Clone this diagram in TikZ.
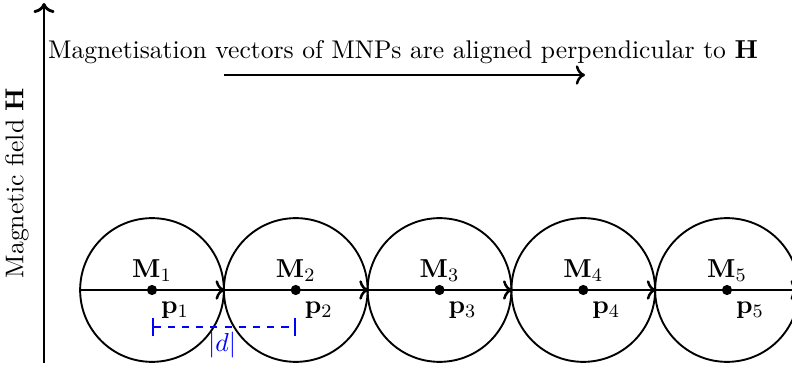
\documentclass[tikz,border=0pt]{standalone}
\usetikzlibrary{arrows.meta}
\begin{document}
\begin{tikzpicture}[x=0.422pt,y=-0.422pt,line width=0.8pt,
  font=\fontsize{10.8}{13}\selectfont,
  mnp/.style={circle,draw,minimum size=60.66pt,inner sep=0pt},
  centre/.style={circle,fill,minimum size=4.3pt,inner sep=0pt},
  vec/.style={->,line width=1.05pt},
  lbl/.style={inner sep=0pt}]
\useasboundingbox (0,0) rectangle (792,365);
% axis
\coordinate (ax0) at (44,363);
\coordinate (ax1) at (44,3);
\draw[vec,line width=1.2pt] (ax0) -- (ax1);
\node[rotate=90,lbl] (hlab) at (17,183) {Magnetic field $\mathbf{H}$};
% title
\node[lbl] (title) at (403,52) {Magnetisation vectors of MNPs are aligned perpendicular to $\mathbf{H}$};
\coordinate (t0) at (224,75);
\coordinate (t1) at (585,75);
\draw[vec] (t0) -- (t1);
% particles
\foreach \i/\x in {1/152,2/295.75,3/439.5,4/583.25,5/727}{
  \node[mnp] (c\i) at (\x,290) {};
  \node[centre] (m\i) at (\x,290) {};
  \draw[vec] (c\i.west) -- (c\i.east);
  \node[lbl] (M\i) at (\x,271) {$\mathbf{M}_{\i}$};
  \node[lbl] (p\i) at ([xshift=23*0.422pt,yshift=-20*0.422pt]m\i) {$\mathbf{p}_{\i}$};
}
% distance
\coordinate (d0) at (152,327);
\coordinate (d1) at (295.75,327);
\draw[blue,dashed,{Bar[width=8pt]}-{Bar[width=8pt]}] (d0) -- (d1);
\node[lbl,blue] (dlab) at (222,345) {$|d|$};
\end{tikzpicture}
\end{document}
